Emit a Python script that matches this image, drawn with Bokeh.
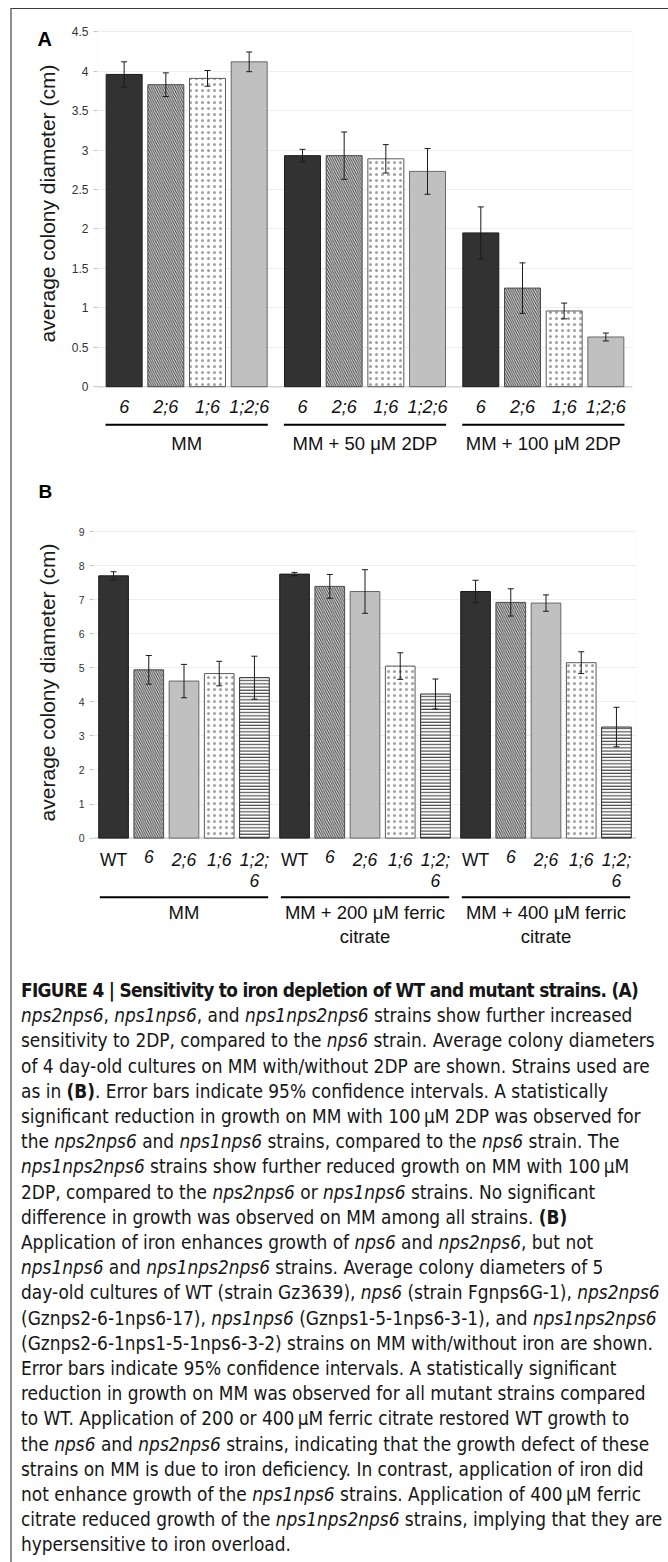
import math
from bokeh.plotting import figure
from bokeh.models import (ColumnDataSource, FixedTicker, NumeralTickFormatter, Whisker, TeeHead,
                          BoxAnnotation, Span, Div, Range1d)
from bokeh.layouts import column, row
from bokeh.embed import file_html
from bokeh.resources import INLINE
from bokeh.core.properties import value

# ---------------- data: panel A (4 day-old cultures, 2DP) ----------------
a_groups = ["MM", "MM + 50 μM 2DP", "MM + 100 μM 2DP"]
a_strains = ["6", "2;6", "1;6", "1;2;6"]
a_kinds = ["dark", "diag", "dots", "gray"]
a_italic = [True, True, True, True]
a_mm = [3.96, 3.83, 3.91, 4.12]
a_mm_err = [0.16, 0.15, 0.10, 0.125]
a_2dp50 = [2.93, 2.93, 2.89, 2.73]
a_2dp50_err = [0.08, 0.30, 0.18, 0.29]
a_2dp100 = [1.95, 1.25, 0.96, 0.63]
a_2dp100_err = [0.33, 0.32, 0.10, 0.05]
a_yticks = [0, 0.5, 1, 1.5, 2, 2.5, 3, 3.5, 4, 4.5]

# ---------------- data: panel B (5 day-old cultures, ferric citrate) ----------------
b_groups = ["MM", "MM + 200 μM ferric\ncitrate", "MM + 400 μM ferric\ncitrate"]
b_strains = ["WT", "6", "2;6", "1;6", "1;2;\n6"]
b_kinds = ["dark", "diag", "gray", "dots", "hline"]
b_italic = [False, True, True, True, True]
b_mm = [7.70, 4.94, 4.61, 4.83, 4.71]
b_mm_err = [0.12, 0.42, 0.49, 0.36, 0.63]
b_fe200 = [7.75, 7.39, 7.24, 5.05, 4.23]
b_fe200_err = [0.05, 0.35, 0.64, 0.39, 0.44]
b_fe400 = [7.24, 6.92, 6.90, 5.15, 3.26]
b_fe400_err = [0.33, 0.40, 0.24, 0.32, 0.58]
b_yticks = [0, 1, 2, 3, 4, 5, 6, 7, 8, 9]

Y_TITLE = "average colony diameter (cm)"
FONT = "Liberation Sans"

STYLE = {
    "dark": dict(fill_color="#323232", line_color="#1c1c1c"),
    "diag": dict(fill_color="#eeeeee", line_color="#4a4a4a", hatch_pattern="left_diagonal_line",
                 hatch_color="#444444", hatch_scale=4.5, hatch_weight=1.1),
    "dots": dict(fill_color="#ffffff", line_color="#5a5a5a", hatch_pattern="dot",
                 hatch_color="#a0a0a0", hatch_scale=6, hatch_weight=0.8),
    "gray": dict(fill_color="#c0c0c0", line_color="#686868"),
    "hline": dict(fill_color="#ffffff", line_color="#2a2a2a", hatch_pattern="horizontal_line",
                  hatch_color="#2a2a2a", hatch_scale=3.2, hatch_weight=1),
}

PAGE_LEFT = 12   # page x of each panel's left edge
LEFT_W = 55      # width of the strip holding the panel letter and the y title


def no_align(fig):
    try:
        fig.frame_align = False
    except Exception:
        pass


def build(letter, groups, strains, kinds, italic, series, errs, yticks, cfg):
    ng, n = len(groups), len(strains)
    ys, ye = cfg["y_start"], cfg["y_end"]
    W, H = cfg["width"] - LEFT_W, cfg["height"]

    # ---- strip on the left: panel letter + rotated y title (pixel coordinates) ----
    s = figure(width=LEFT_W, height=H, x_range=Range1d(0, LEFT_W), y_range=Range1d(H, 0),
               output_backend="svg", toolbar_location=None, x_axis_location=None,
               y_axis_location=None, min_border_left=0, min_border_right=0,
               min_border_top=0, min_border_bottom=0)
    no_align(s)
    s.outline_line_color = None
    s.grid.visible = False
    s.text(x=[cfg["title_x"] - PAGE_LEFT], y=[cfg["title_y"] - cfg["top"]], text=[Y_TITLE],
           angle=math.pi / 2, text_align="center", text_baseline="middle",
           text_font=value(FONT), text_font_size="21px", text_color="#1a1a1a")
    s.text(x=[cfg["letter_x"] - PAGE_LEFT], y=[cfg["letter_y"] - cfg["top"]], text=[letter],
           text_align="left", text_baseline="top", text_font=value(FONT),
           text_font_style="bold", text_font_size=cfg["letter_fs"], text_color="#000000")

    # ---- main chart ----
    p = figure(width=W, height=H,
               x_range=Range1d(-0.5, ng - 0.5), y_range=Range1d(ys, ye),
               output_backend="svg", toolbar_location=None, x_axis_location=None,
               min_border_left=cfg["bl"], min_border_right=cfg["br"],
               min_border_top=cfg["bt"], min_border_bottom=cfg["bb"])
    no_align(p)
    p.outline_line_color = None
    p.background_fill_color = "white"
    p.border_fill_color = "white"

    fh = H - cfg["bt"] - cfg["bb"]
    ysc = fh / (ye - ys)
    frame_top = cfg["top"] + cfg["bt"]

    def Y(py):
        return ye - (py - frame_top) / ysc

    p.add_layout(BoxAnnotation(bottom=0, fill_color=None, line_color="#e2e2e2", line_width=1,
                               level="underlay"))
    p.add_layout(Span(location=0, dimension="width", line_color="#d4d4d4", line_width=1.5,
                      level="underlay"))

    step, bw = cfg["step"], cfg["bar_w"]
    wx, wu, wl = [], [], []
    for j in range(n):
        off = (j - (n - 1) / 2) * step
        xj = [g + off for g in range(ng)]
        tops = [series[g][j] for g in range(ng)]
        src = ColumnDataSource(dict(x=xj, top=tops))
        p.vbar(x="x", top="top", bottom=0, width=bw, source=src, line_width=1, **STYLE[kinds[j]])
        for g in range(ng):
            wx.append(xj[g])
            wu.append(tops[g] + errs[g][j])
            wl.append(tops[g] - errs[g][j])
    wsrc = ColumnDataSource(dict(x=wx, upper=wu, lower=wl))
    p.add_layout(Whisker(source=wsrc, base="x", upper="upper", lower="lower",
                         line_color="#1a1a1a", line_width=1, level="annotation",
                         upper_head=TeeHead(size=6, line_color="#1a1a1a", line_width=1),
                         lower_head=TeeHead(size=6, line_color="#1a1a1a", line_width=1)))

    # strain labels
    lx, lt, lst = [], [], []
    for g in range(ng):
        for j in range(n):
            lx.append(g + (j - (n - 1) / 2) * step)
            lt.append(strains[j])
            lst.append("italic" if italic[j] else "normal")
    p.text(x=lx, y=[Y(cfg["strain_y"])] * len(lx), text=lt, text_font_style=lst,
           text_font=value(FONT), text_font_size=cfg["strain_fs"], text_color="#111111",
           text_align="center", text_baseline=cfg["strain_base"],
           text_line_height=cfg["strain_lh"])

    # group underline + group names
    gx = list(range(ng))
    half = cfg["line_half"]
    p.segment(x0=[g - half for g in gx], x1=[g + half for g in gx],
              y0=[Y(cfg["line_y"])] * ng, y1=[Y(cfg["line_y"])] * ng,
              line_color="#000000", line_width=2)
    p.text(x=gx, y=[Y(cfg["group_y"])] * ng, text=groups, text_font=value(FONT),
           text_font_size=cfg["group_fs"], text_color="#111111", text_align="center",
           text_baseline=cfg["group_base"], text_line_height=cfg["group_lh"])

    p.yaxis.ticker = FixedTicker(ticks=yticks)
    p.yaxis.formatter = NumeralTickFormatter(format="0.[0]")
    p.yaxis.axis_line_color = None
    p.yaxis.major_tick_out = 4
    p.yaxis.major_tick_in = 0
    p.yaxis.major_tick_line_color = "#c4c4c4"
    p.yaxis.minor_tick_line_color = None
    p.yaxis.major_label_text_font = FONT
    p.yaxis.major_label_text_font_size = cfg["tick_fs"]
    p.yaxis.major_label_text_color = "#333333"
    p.yaxis.major_label_standoff = 5
    p.ygrid.ticker = FixedTicker(ticks=yticks)
    p.ygrid.grid_line_color = "#eeeeee"
    p.xgrid.visible = False
    return row(s, p, spacing=0)


cfg_a = dict(top=9, width=655, height=461, bl=30, br=35, bt=20, bb=5,
             y_start=-1.0, y_end=4.53, step=0.2337, bar_w=0.2018, line_half=0.455,
             strain_y=406, strain_base="middle", strain_fs="18px", strain_lh=1.0,
             line_y=424.3, group_y=442.5, group_base="middle", group_fs="18.5px", group_lh=1.15,
             tick_fs="12px", title_x=46.5, title_y=203, letter_x=37, letter_y=27, letter_fs="20px")

cfg_b = dict(top=470, width=655, height=505, bl=26, br=31, bt=59, bb=25,
             y_start=-3.3, y_end=9.06, step=0.1946, bar_w=0.164, line_half=0.465,
             strain_y=849.5, strain_base="top", strain_fs="17.5px", strain_lh=1.03,
             line_y=896.7, group_y=901, group_base="top", group_fs="18.5px", group_lh=1.15,
             tick_fs="10.5px", title_x=46.5, title_y=682, letter_x=38, letter_y=480,
             letter_fs="19px")

pa = build("A", a_groups, a_strains, a_kinds, a_italic,
           [a_mm, a_2dp50, a_2dp100], [a_mm_err, a_2dp50_err, a_2dp100_err], a_yticks, cfg_a)
pb = build("B", b_groups, b_strains, b_kinds, b_italic,
           [b_mm, b_fe200, b_fe400], [b_mm_err, b_fe200_err, b_fe400_err], b_yticks, cfg_b)

caption_lines = [
    "<b style=\"letter-spacing:-0.7px\">FIGURE 4 | Sensitivity to iron depletion of WT and mutant strains. (A)</b>",
    "<i>nps2nps6</i>, <i>nps1nps6</i>, and <i>nps1nps2nps6</i> strains show further increased",
    "sensitivity to 2DP, compared to the <i>nps6</i> strain. Average colony diameters",
    "of 4 day-old cultures on MM with/without 2DP are shown. Strains used are",
    "as in <b>(B)</b>. Error bars indicate 95% confidence intervals. A statistically",
    "significant reduction in growth on MM with 100&#8201;μM 2DP was observed for",
    "the <i>nps2nps6</i> and <i>nps1nps6</i> strains, compared to the <i>nps6</i> strain. The",
    "<i>nps1nps2nps6</i> strains show further reduced growth on MM with 100&#8201;μM",
    "2DP, compared to the <i>nps2nps6</i> or <i>nps1nps6</i> strains. No significant",
    "difference in growth was observed on MM among all strains. <b>(B)</b>",
    "Application of iron enhances growth of <i>nps6</i> and <i>nps2nps6</i>, but not",
    "<i>nps1nps6</i> and <i>nps1nps2nps6</i> strains. Average colony diameters of 5",
    "day-old cultures of WT (strain Gz3639), <i>nps6</i> (strain Fgnps6G-1), <i>nps2nps6</i>",
    "(Gznps2-6-1nps6-17), <i>nps1nps6</i> (Gznps1-5-1nps6-3-1), and <i>nps1nps2nps6</i>",
    "(Gznps2-6-1nps1-5-1nps6-3-2) strains on MM with/without iron are shown.",
    "Error bars indicate 95% confidence intervals. A statistically significant",
    "reduction in growth on MM was observed for all mutant strains compared",
    "to WT. Application of 200 or 400&#8201;μM ferric citrate restored WT growth to",
    "the <i>nps6</i> and <i>nps2nps6</i> strains, indicating that the growth defect of these",
    "strains on MM is due to iron deficiency. In contrast, application of iron did",
    "not enhance growth of the <i>nps1nps6</i> strains. Application of 400&#8201;μM ferric",
    "citrate reduced growth of the <i>nps1nps2nps6</i> strains, implying that they are",
    "hypersensitive to iron overload.",
]
cap_html = ('<div style="font-family: \'DejaVu Sans Condensed\', \'Liberation Sans Narrow\', sans-serif; '
            'font-size:18.9px; line-height:25.2px; color:#161616; white-space:nowrap; '
            'padding:0 0 0 4px; margin:-2px 0 0 0;">' + "<br>".join(caption_lines) + "</div>")
cap = Div(text=cap_html, width=655, height=584, styles={"overflow": "hidden"})

layout = column(pa, pb, cap, spacing=0,
                styles={"border-left": "2px solid #8e8e8e",
                        "border-top": "1px solid #3a3a3a",
                        "border-right": "1px solid #d2d2d2",
                        "margin-left": "10px", "margin-top": "8px"})

open("out.html", "w").write(file_html(layout, INLINE))
